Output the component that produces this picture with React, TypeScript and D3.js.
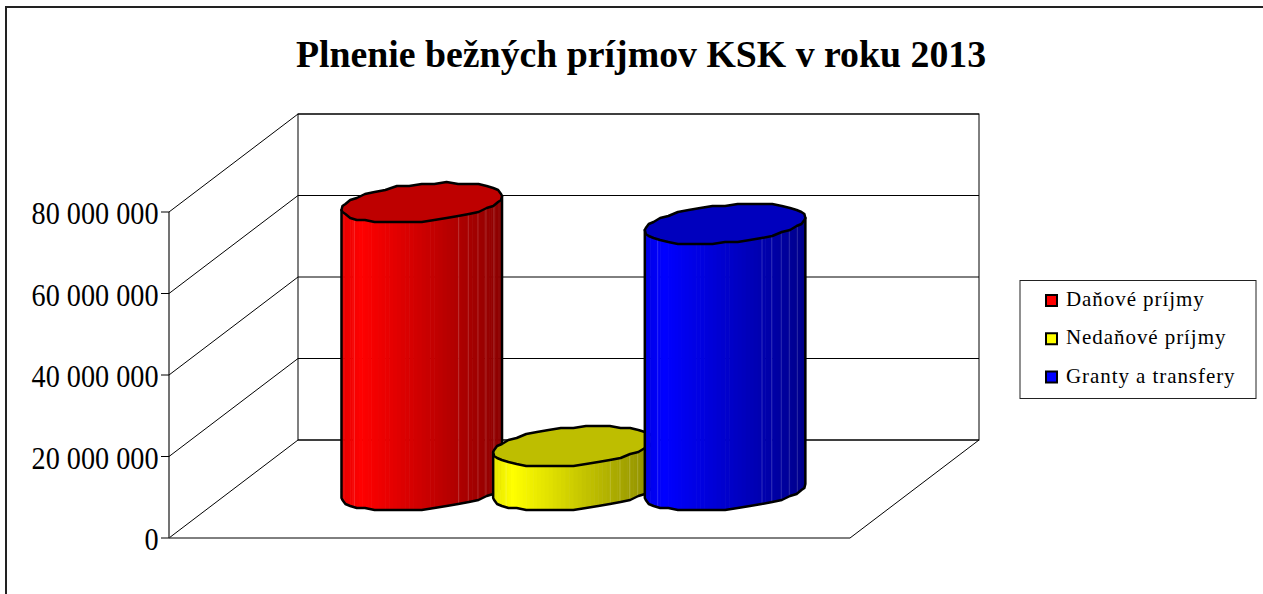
import React from 'react';
import * as d3 from 'd3';

const title = 'Plnenie bežných príjmov KSK v roku 2013';
const categories = ['Daňové príjmy', 'Nedaňové príjmy', 'Granty a transfery'];
const values = [70700000, 11000000, 65500000];
const baseColors = ['#ff0000', '#ffff00', '#0000ff'];
const ticks = [0, 20000000, 40000000, 60000000, 80000000];

const W = 1263;
const H = 594;
const floorL = 169;
const floorR = 850;
const floorY = 538;
const topY = 212;
const depthX = 129;
const depthY = 98;

// where the lighter facet seams sit across a cylinder, left 0 to right 1
const seams = [0.08, 0.73, 0.79, 0.85, 0.9, 0.95];

const y = d3.scaleLinear().domain([0, 80000000]).range([floorY, topY]);
const x = d3.scaleBand<string>().domain(categories).range([floorL + 2, floorR + 2]).paddingInner(0).paddingOuter(0.745);

const fmt = (v: number) => String(v).replace(/\B(?=(\d{3})+$)/g, ' ');

// coarse circle in floor perspective, the original is a rough polygon
const depthFrac = 0.204;
const rx = () => x.bandwidth() / 2;
const ringPoint = (cx: number, cy: number, t: number): [number, number] => [
  cx + rx() * Math.cos(t) + depthX * depthFrac * Math.sin(t),
  cy - depthY * depthFrac * Math.sin(t),
];
const wobble = (p: [number, number]): [number, number] => [p[0], Math.round(p[1] / 2) * 2];

const Cylinder = ({ name, value, color }: { name: string; value: number; color: string }) => {
  const cx = x(name)! + x.bandwidth() / 2 + depthX * 0.48;
  const baseY = floorY - depthY * 0.48;
  const topC = baseY - (y(0) - y(value));
  const t0 = Math.atan2(depthX * depthFrac, rx());
  const sweep = d3.range(0, 61).map(i => t0 + Math.PI + (Math.PI * i) / 60);
  const coarse = d3.range(0, 41).map(i => (Math.PI * 2 * i) / 40 + t0);
  const line = d3.line();

  const shade = d3.scaleLinear<string>()
    .domain([0, 0.12, 1])
    .range([d3.rgb(color).darker(0.3).formatHex(), color, d3.rgb(color).darker(1.7).formatHex()]);
  const left = ringPoint(cx, baseY, sweep[0])[0];
  const right = ringPoint(cx, baseY, sweep[60])[0];
  const f = (px: number) => (px - left) / (right - left);

  const frontCoarse = coarse.filter(t => t >= t0 + Math.PI - 1e-6);
  const top = coarse.map(t => wobble(ringPoint(cx, topC, t)));
  const outline = [
    ...frontCoarse.map(t => wobble(ringPoint(cx, baseY, t))),
    wobble(ringPoint(cx, topC, t0)),
    wobble(ringPoint(cx, topC, t0 + Math.PI)),
  ];
  const clipId = 'clip-' + categories.indexOf(name);

  return (
    <g>
      <clipPath id={clipId}>
        <path d={line(outline) + 'Z'} />
      </clipPath>
      <g clipPath={`url(#${clipId})`}>
        {d3.pairs(sweep).map(([a, b], i) => {
          const pa = ringPoint(cx, baseY, a);
          const pb = ringPoint(cx, baseY, b);
          const fill = shade(f((pa[0] + pb[0]) / 2));
          return (
            <rect key={i} x={pa[0]} y={topC - 30} width={pb[0] - pa[0] + 0.6} height={baseY - topC + 60} fill={fill} />
          );
        })}
        {seams.map(s => {
          const px = left + s * (right - left);
          return <line key={s} x1={px} x2={px} y1={topC} y2={baseY + 30} stroke="#fff" strokeOpacity={0.18} />;
        })}
      </g>
      <path d={line(outline) + 'Z'} fill="none" stroke="#000" strokeWidth={2.5} strokeLinejoin="round" />
      <path d={line(top) + 'Z'} fill={d3.rgb(color).darker(0.83).formatHex()} stroke="#000" strokeWidth={2.5} strokeLinejoin="round" />
    </g>
  );
};

export default function App() {
  return (
    <svg width={W} height={H} style={{ position: 'absolute', left: 0, top: 0, background: '#fff' }}>
      <path d={`M${W},7H6V${H}`} fill="none" stroke="#222" strokeWidth={2} />
      <text x={641} y={67} textAnchor="middle" fontFamily="Liberation Serif" fontWeight="bold" fontSize={37.8}>{title}</text>

      {/* walls */}
      <path
        d={`M${floorL},${floorY}H${floorR}L${floorR + depthX},${floorY - depthY}H${floorL + depthX}Z`}
        fill="none" stroke="#000" strokeWidth={1}
      />
      <rect x={floorL + depthX} y={y(80000000) - depthY} width={floorR - floorL} height={y(0) - y(80000000)} fill="none" stroke="#000" />
      <line x1={floorL} x2={floorL} y1={y(0)} y2={y(80000000)} stroke="#444" strokeWidth={1.5} />
      {ticks.map(t => (
        <g key={t}>
          {t > 0 && (
            <path
              d={`M${floorL},${y(t)}L${floorL + depthX},${y(t) - depthY}H${floorR + depthX}`}
              fill="none" stroke="#000" strokeWidth={1}
            />
          )}
          <line x1={floorL - 8} x2={floorL} y1={y(t)} y2={y(t)} stroke="#000" />
          {/* the labels are condensed in the original */}
          <text
            transform={`translate(158.5,${y(t) + 12}) scale(0.91,1)`}
            textAnchor="end"
            fontFamily="Liberation Serif"
            fontSize={31}
          >
            {fmt(t)}
          </text>
        </g>
      ))}

      {categories.map((c, i) => (
        <Cylinder key={c} name={c} value={values[i]} color={baseColors[i]} />
      ))}

      {/* legend */}
      <rect x={1020} y={280.5} width={236} height={118} fill="#fff" stroke="#222" />
      {categories.map((c, i) => {
        const ly = d3.scaleLinear().domain([0, 2]).range([300.5, 377])(i);
        return (
          <g key={c}>
            <rect x={1046} y={ly - 5.5} width={11} height={11} fill={baseColors[i]} stroke="#000" strokeWidth={2} />
            <text x={1066} y={ly + 5.5} fontFamily="Liberation Serif" fontSize={21} letterSpacing={0.93}>{c}</text>
          </g>
        );
      })}
    </svg>
  );
}
